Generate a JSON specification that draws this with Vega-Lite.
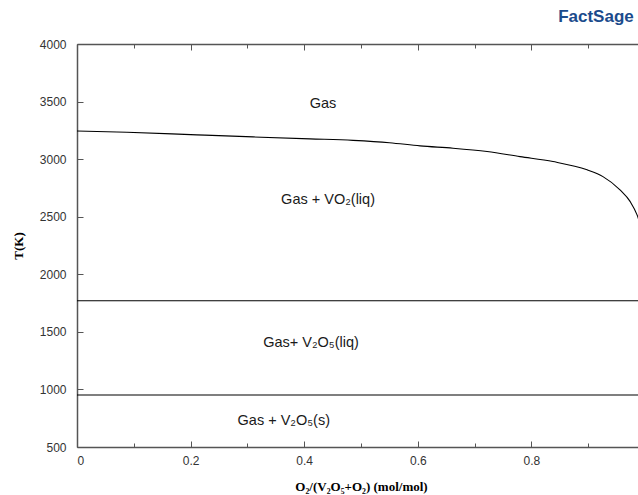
{
  "$schema": "https://vega.github.io/schema/vega-lite/v6.json",
  "width": 568,
  "height": 403,
  "autosize": {"type": "none"},
  "padding": {"left": 77, "top": 44, "right": 10, "bottom": 48},
  "background": "white",
  "title": {"text": "FactSage", "anchor": "end", "orient": "top", "offset": 12, "dx": -14, "font": "Liberation Sans", "fontSize": 17, "fontWeight": "bold", "color": "#1b4b8c"},
  "config": {
    "view": {"stroke": null},
    "axis": {"domainColor": "#555", "domainWidth": 1.5, "tickColor": "#555", "tickWidth": 1, "labelColor": "#333", "labelFont": "Liberation Sans", "labelFontSize": 12, "grid": false, "titleFont": "Liberation Serif", "titleFontWeight": "bold", "titleFontSize": 13, "titleColor": "#000"}
  },
  "datasets": {
    "curve": [
      {"x": 0.0, "T": 3245},
      {"x": 0.088, "T": 3234},
      {"x": 0.211, "T": 3211},
      {"x": 0.31, "T": 3193},
      {"x": 0.41, "T": 3176},
      {"x": 0.486, "T": 3163},
      {"x": 0.55, "T": 3143},
      {"x": 0.604, "T": 3115},
      {"x": 0.662, "T": 3095},
      {"x": 0.722, "T": 3066},
      {"x": 0.78, "T": 3022},
      {"x": 0.838, "T": 2979},
      {"x": 0.898, "T": 2907},
      {"x": 0.926, "T": 2848},
      {"x": 0.956, "T": 2733},
      {"x": 0.974, "T": 2631},
      {"x": 0.986, "T": 2516},
      {"x": 0.995, "T": 2380}
    ],
    "hlines": [{"T": 1770}, {"T": 952}],
    "labels": [
      {"x": 0.433, "T": 3480, "text": "Gas"},
      {"x": 0.442, "T": 2646, "text": "Gas + VO₂(liq)"},
      {"x": 0.412, "T": 1404, "text": "Gas+ V₂O₅(liq)"},
      {"x": 0.364, "T": 726, "text": "Gas + V₂O₅(s)"}
    ],
    "ticks": [{"x": 0}, {"x": 1}]
  },
  "resolve": {"axis": {"x": "independent"}},
  "layer": [
    {
      "data": {"name": "curve"},
      "mark": {"type": "line", "color": "#000", "strokeWidth": 1.1, "clip": true, "interpolate": "monotone"},
      "encoding": {
        "x": {"field": "x", "type": "quantitative", "scale": {"domain": [0, 1], "nice": false, "zero": false},
          "axis": {"orient": "bottom", "title": "O₂/(V₂O₅+O₂) (mol/mol)", "values": [0, 0.1, 0.2, 0.3, 0.4, 0.5, 0.6, 0.7, 0.8, 0.9, 1.0],
            "labelExpr": "(round(datum.value*10) % 2 === 0 && datum.value < 0.95) ? (datum.value === 0 ? '0' : format(datum.value, '.1f')) : ''",
            "tickSize": {"condition": {"test": "round(datum.value*10) % 2 === 0", "value": -6}, "value": -4},
            "labelPadding": 14, "titlePadding": 14}},
        "y": {"field": "T", "type": "quantitative", "scale": {"domain": [500, 4000], "nice": false, "zero": false},
          "axis": {"title": "T(K)", "values": [500, 750, 1000, 1250, 1500, 1750, 2000, 2250, 2500, 2750, 3000, 3250, 3500, 3750, 4000],
            "labelExpr": "datum.value % 500 === 0 ? datum.label : ''", "format": "d",
            "tickSize": {"condition": {"test": "datum.value % 500 === 0", "value": -6}, "value": -3},
            "labelPadding": 17, "titlePadding": 14}}
      }
    },
    {
      "data": {"name": "hlines"},
      "mark": {"type": "rule", "color": "#000", "strokeWidth": 1.1},
      "encoding": {"y": {"field": "T", "type": "quantitative"}}
    },
    {
      "data": {"name": "labels"},
      "mark": {"type": "text", "font": "Liberation Sans", "fontSize": 14.5, "color": "#1a1a1a", "align": "center", "baseline": "middle"},
      "encoding": {
        "x": {"field": "x", "type": "quantitative", "axis": null},
        "y": {"field": "T", "type": "quantitative"},
        "text": {"field": "text"}
      }
    },
    {
      "data": {"name": "ticks"},
      "mark": {"type": "point", "opacity": 0},
      "encoding": {
        "x": {"field": "x", "type": "quantitative",
          "axis": {"orient": "top", "title": null, "labels": false, "values": [0, 0.1, 0.2, 0.3, 0.4, 0.5, 0.6, 0.7, 0.8, 0.9, 1.0],
            "tickSize": {"condition": {"test": "round(datum.value*10) % 2 === 0", "value": -6}, "value": -4}}}
      }
    }
  ]
}
